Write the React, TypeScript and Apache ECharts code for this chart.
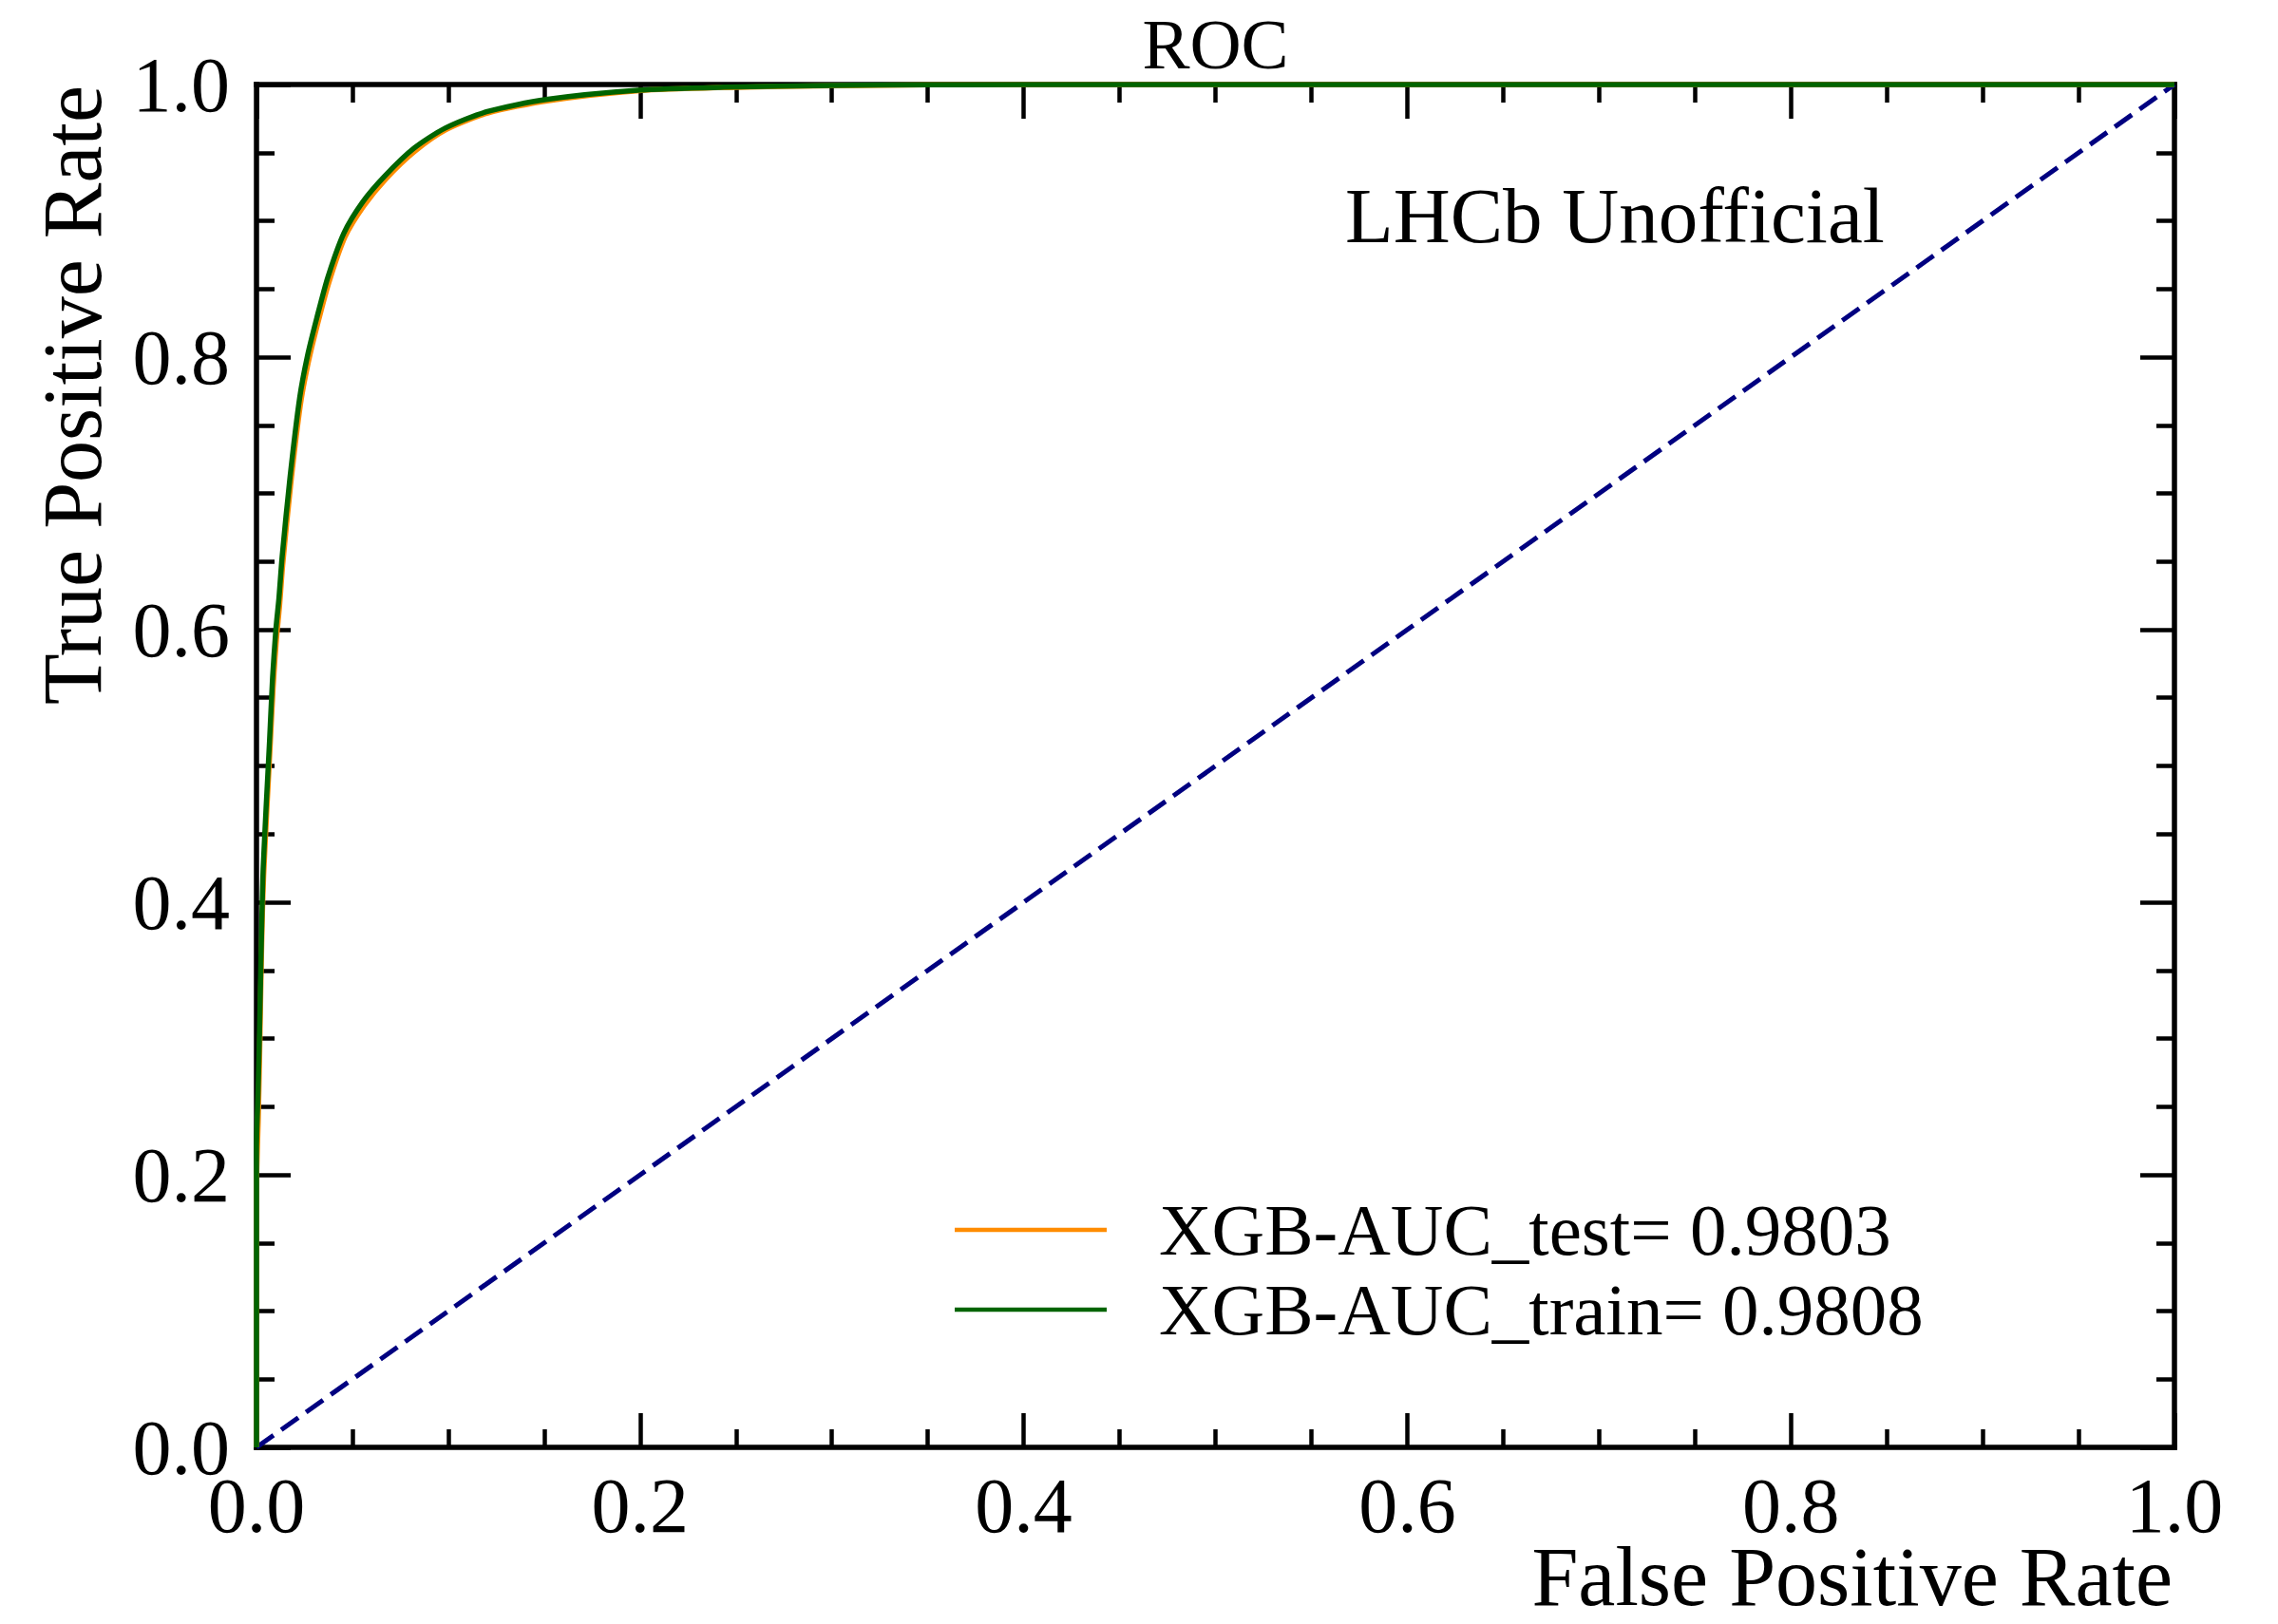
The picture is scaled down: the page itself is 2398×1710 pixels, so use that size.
import React, { useEffect, useRef } from "react";
import * as echarts from "echarts";

// ---- data ----
const fprTrain = [0, 0, 0.0008, 0.0015, 0.0023, 0.003, 0.0035, 0.0051, 0.0068, 0.0084, 0.0101, 0.0117, 0.0134, 0.0175, 0.0225, 0.0266, 0.0315, 0.0373, 0.0456, 0.0555, 0.067, 0.0819, 0.0984, 0.1199, 0.151, 0.199, 0.2437, 0.3, 0.35, 0.45, 0.6, 0.8, 1.0];
const tprTrain = [0, 0.22, 0.26, 0.3, 0.356, 0.4, 0.4255, 0.472, 0.518, 0.565, 0.6, 0.623, 0.654, 0.712, 0.77, 0.801, 0.829, 0.859, 0.891, 0.914, 0.933, 0.953, 0.968, 0.98, 0.989, 0.9958, 0.998, 0.9993, 0.9998, 1.0, 1.0, 1.0, 1.0];
const fprTest = [0, 0, 0.0009, 0.0016, 0.0024, 0.0031, 0.0037, 0.0053, 0.007, 0.0087, 0.0104, 0.012, 0.0137, 0.0178, 0.0229, 0.027, 0.032, 0.0378, 0.0461, 0.056, 0.0676, 0.0825, 0.099, 0.1205, 0.1515, 0.1995, 0.244, 0.3, 0.35, 0.45, 0.6, 0.8, 1.0];
const tprTest = [0, 0.19, 0.24, 0.285, 0.348, 0.392, 0.418, 0.465, 0.511, 0.558, 0.593, 0.617, 0.648, 0.706, 0.765, 0.796, 0.825, 0.855, 0.888, 0.911, 0.931, 0.951, 0.967, 0.979, 0.988, 0.9955, 0.9978, 0.9992, 0.9998, 1.0, 1.0, 1.0, 1.0];
const diagX = [0, 1];
const diagY = [0, 1];
const tickValues = [0, 0.2, 0.4, 0.6, 0.8, 1.0];

const nameTest = "XGB-AUC_test= 0.9803";
const nameTrain = "XGB-AUC_train= 0.9808";
const titleText = "ROC";
const xTitle = "False Positive Rate";
const yTitle = "True Positive Rate";
const tagText = "LHCb Unofficial";

const FONT = "'Liberation Serif', 'Times New Roman', serif";

function pairs(xs: number[], ys: number[]) {
  return xs.map((x, i) => [x, ys[i]]);
}

function makeAxis(kind: "x" | "y", position: string, showLabel: boolean) {
  return {
    type: "value",
    min: tickValues[0],
    max: tickValues[tickValues.length - 1],
    interval: 0.2,
    position,
    gridIndex: 0,
    axisLine: { show: true, onZero: false, lineStyle: { color: "#000", width: 5.5, cap: "square" } },
    axisTick: { show: true, inside: true, length: 36, lineStyle: { color: "#000", width: 4.5 } },
    minorTick: { show: true, splitNumber: 4, length: 19, lineStyle: { color: "#000", width: 4.5 } },
    splitLine: { show: false },
    minorSplitLine: { show: false },
    axisLabel: {
      show: showLabel,
      showMinLabel: true,
      showMaxLabel: true,
      formatter: (v: number) => v.toFixed(1),
      fontFamily: FONT,
      fontSize: 82,
      lineHeight: 60,
      color: "#000",
      margin: kind === "x" ? 31 : 28,
    },
  };
}

export default function App() {
  const ref = useRef<HTMLDivElement>(null);
  useEffect(() => {
    if (!ref.current) return;
    const chart = echarts.init(ref.current, null, { renderer: "svg" });
    const option: any = {
      animation: false,
      backgroundColor: "#ffffff",
      grid: { left: 270, top: 89, width: 2019, height: 1435, show: false },
      legend: {
        data: [nameTest, nameTrain],
        orient: "vertical",
        left: 1000,
        top: 1251,
        icon: "rect",
        itemWidth: 160,
        itemHeight: 4.5,
        itemGap: 6,
        itemStyle: { borderWidth: 0 },
        selectedMode: false,
        textStyle: {
          fontFamily: FONT,
          fontSize: 77,
          lineHeight: 78,
          color: "#000",
          padding: [0, 0, 0, 50],
        },
      },
      xAxis: [makeAxis("x", "bottom", true), makeAxis("x", "top", false)],
      yAxis: [makeAxis("y", "left", true), makeAxis("y", "right", false)],
      series: [
        {
          type: "line",
          name: "diag",
          data: pairs(diagX, diagY),
          xAxisIndex: 0,
          yAxisIndex: 0,
          symbol: "none",
          lineStyle: { color: "#000080", width: 5, type: [22, 10] },
          itemStyle: { color: "#000080" },
          silent: true,
        },
        {
          type: "line",
          name: nameTest,
          data: pairs(fprTest, tprTest),
          xAxisIndex: 0,
          yAxisIndex: 0,
          symbol: "none",
          smooth: 0.25,
          lineStyle: { color: "#FF8C00", width: 5.5 },
          itemStyle: { color: "#FF8C00" },
        },
        {
          type: "line",
          name: nameTrain,
          data: pairs(fprTrain, tprTrain),
          xAxisIndex: 0,
          yAxisIndex: 0,
          symbol: "none",
          smooth: 0.25,
          lineStyle: { color: "#006400", width: 5.5 },
          itemStyle: { color: "#006400" },
        },
      ],
      graphic: [
        {
          type: "text",
          x: 1279.5,
          y: 46.7,
          style: {
            text: titleText,
            fontFamily: FONT,
            fontSize: 75,
            lineHeight: 60,
            fill: "#000",
            align: "center",
            textAlign: "center",
            verticalAlign: "middle",
            textVerticalAlign: "middle",
          },
        },
        {
          type: "text",
          x: 1416,
          y: 227,
          style: {
            text: tagText,
            fontFamily: FONT,
            fontSize: 83,
            lineHeight: 64,
            fill: "#000",
            align: "left",
            textAlign: "left",
            verticalAlign: "middle",
            textVerticalAlign: "middle",
          },
        },
        {
          type: "text",
          x: 2287,
          y: 1660,
          style: {
            text: xTitle,
            fontFamily: FONT,
            fontSize: 88,
            lineHeight: 60,
            fill: "#000",
            align: "right",
            textAlign: "right",
            verticalAlign: "middle",
            textVerticalAlign: "middle",
          },
        },
        {
          type: "text",
          x: 76,
          y: 90,
          rotation: Math.PI / 2,
          style: {
            text: yTitle,
            fontFamily: FONT,
            fontSize: 88,
            lineHeight: 64,
            fill: "#000",
            align: "right",
            textAlign: "right",
            verticalAlign: "middle",
            textVerticalAlign: "middle",
          },
        },
      ],
    };
    chart.setOption(option);
    return () => chart.dispose();
  }, []);
  return (
    <div
      ref={ref}
      style={{ position: "fixed", left: 0, top: 0, width: 2398, height: 1710, background: "#fff" }}
    />
  );
}
